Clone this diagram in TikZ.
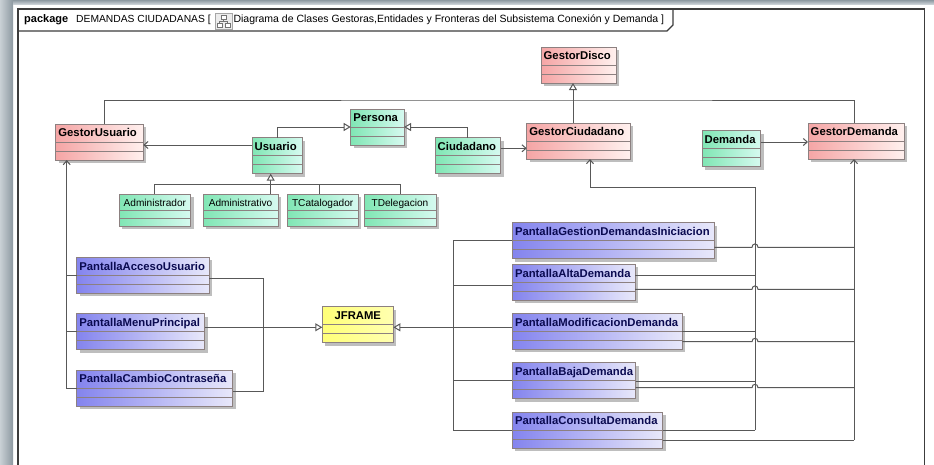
\documentclass[tikz,border=0pt]{standalone}
\usepackage{fontspec}
\setmainfont{Liberation Sans}
\usetikzlibrary{arrows.meta,calc}

\definecolor{pinkL}{HTML}{F5A5A5}
\definecolor{pinkR}{HTML}{FFF0EE}
\definecolor{greenL}{HTML}{80E6B4}
\definecolor{greenR}{HTML}{D6FAF0}
\definecolor{blueL}{HTML}{8484EE}
\definecolor{blueR}{HTML}{E8E8FA}
\definecolor{yellowL}{HTML}{FFFF78}
\definecolor{yellowR}{HTML}{FFFFB0}
\definecolor{boxedge}{HTML}{8C8080}
\definecolor{shadowc}{HTML}{BEBEBE}
\definecolor{linec}{HTML}{585858}
\definecolor{framec}{HTML}{3C3C3C}
\definecolor{navy}{HTML}{0A0A50}
\definecolor{stripL}{HTML}{C9D0D5}
\definecolor{stripR}{HTML}{8D99A1}

\tikzset{
  classbox/.style={draw=boxedge, line width=0.8pt, inner sep=0pt, outer sep=0pt},
  gestor/.style={left color=pinkL, right color=pinkR},
  entidad/.style={left color=greenL, right color=greenR},
  pantalla/.style={left color=blueL, right color=blueR},
  marco/.style={left color=yellowL, right color=yellowR},
  sepline/.style={draw=boxedge, line width=0.8pt},
  cname/.style={font=\fontsize{11.3}{12}\selectfont\bfseries, inner sep=0pt},
  pname/.style={cname, text=navy},
  sname/.style={font=\fontsize{10.1}{11}\selectfont, inner sep=0pt},
  line/.style={draw=linec, line width=1pt},
  gen/.style={line, -{Triangle[open, length=7pt, width=8pt, fill=white]}},
  assoc/.style={line, -{Straight Barb[length=4pt, width=7pt]}},
}

% class box: name, colour style, x, y (top left), width, height
\newcommand\umlclass[6]{%
  \fill[shadowc] (#3+3,#4+3) rectangle ++(#5,#6);
  \node[classbox,#2,minimum width=#5pt,minimum height=#6pt,anchor=north west] (#1) at (#3,#4) {};
  \draw[sepline] ($(#1.north west)+(0,#6/2)$) -- ++(#5,0)
                 ($(#1.north west)+(0,#6*3/4)$) -- ++(#5,0);
}
% left aligned class name
\newcommand\clname[3][cname]{\node[#1,anchor=base west] (#2-n) at ($(#2.north west)+(2.5,12.7)$) {#3};}
% centred class name
\newcommand\clnamec[3][sname]{\node[#1,anchor=base] (#2-n) at ($(#2.north)+(0,12.7)$) {#3};}
% line from a screen to the demand bus, hopping over the citizen bus
\newcommand\hopline[2]{%
  \draw[line] (#1 |- 0,#2) -- ($(cbx |- 0,#2)+(-3,0)$)
    .. controls ($(cbx |- 0,#2)+(-3,-4.5)$) and ($(cbx |- 0,#2)+(3,-4.5)$) .. ($(cbx |- 0,#2)+(3,0)$)
    -- (dbx |- 0,#2);}

\begin{document}
\begin{tikzpicture}[x=1pt,y=-1pt]
\useasboundingbox (0,0) rectangle (934,464);

% window background
\fill[white] (0,0) rectangle (934,464);
\shade[left color=stripL, right color=stripR] (0,0) rectangle (13,464);
\shade[top color=stripR, bottom color=stripL] (13,0) rectangle (934,4);

% package frame
\draw[framec, line width=1.3pt] (18,470) -- (18,9) -- (924.3,9) -- (924.3,470);
\draw[framec, line width=1.1pt] (18,31) -- (667,31) -- (673,25) -- (673,9);
\node[anchor=base west, inner sep=0pt, font=\fontsize{11}{12}\selectfont\bfseries] (pkg) at (24,22) {package};
\node[anchor=base west, inner sep=0pt, font=\fontsize{10.3}{12}\selectfont] (pkgname) at (76,22) {DEMANDAS CIUDADANAS [};
% diagram icon
\draw[draw=gray!70, fill=gray!15, line width=0.6pt] (215,13) rectangle (232,29);
\draw[draw=gray!90!black, line width=0.6pt, fill=white] (221,15) rectangle (226,19)
  (217,23) rectangle (222,27) (225,23) rectangle (230,27);
\draw[gray!90!black, line width=0.6pt] (223.5,19) -- (223.5,21) (219.5,21) -- (227.5,21)
  (219.5,21) -- (219.5,23) (227.5,21) -- (227.5,23);
\node[anchor=base west, inner sep=0pt, font=\fontsize{10.5}{12}\selectfont] (pkgdiag) at (233.3,22)
  {Diagrama de Clases Gestoras,Entidades y Fronteras del Subsistema Conexión y Demanda ]};

% managers
\umlclass{gd}{gestor}{541}{47}{75}{36}
\umlclass{gu}{gestor}{55.7}{124}{87.6}{36}
\umlclass{gc}{gestor}{526.7}{123}{103.3}{36}
\umlclass{gdm}{gestor}{808}{123}{96}{36}
\clname{gd}{GestorDisco}
\clname{gu}{GestorUsuario}
\clname{gc}{GestorCiudadano}
\clname{gdm}{GestorDemanda}

% entities
\umlclass{pe}{entidad}{350.7}{109}{53.3}{36}
\umlclass{us}{entidad}{252}{137.7}{50}{36}
\umlclass{ci}{entidad}{435}{137.7}{65.7}{36}
\umlclass{dm}{entidad}{702}{130.7}{58.7}{36}
\clname{pe}{Persona}
\clname{us}{Usuario}
\clname{ci}{Ciudadano}
\clname{dm}{Demanda}

\umlclass{ad}{entidad}{119}{194}{71.7}{32}
\umlclass{av}{entidad}{203}{194}{75}{32}
\umlclass{tc}{entidad}{287.3}{194}{70.7}{32}
\umlclass{td}{entidad}{364}{194}{72}{32}
\clnamec{ad}{Administrador}
\clnamec{av}{Administrativo}
\clnamec{tc}{TCatalogador}
\clnamec{td}{TDelegacion}

% screens
\umlclass{pacc}{pantalla}{76.7}{257.3}{132.6}{36}
\umlclass{pmp}{pantalla}{76.7}{313.7}{128}{36}
\umlclass{pcc}{pantalla}{76.7}{370}{156}{36}
\clname[pname]{pacc}{PantallaAccesoUsuario}
\clname[pname]{pmp}{PantallaMenuPrincipal}
\clname[pname]{pcc}{PantallaCambioContraseña}

\umlclass{pgi}{pantalla}{512.3}{222.7}{202}{36}
\umlclass{pad}{pantalla}{512.3}{264.3}{122.7}{36}
\umlclass{pmd}{pantalla}{512.3}{313.3}{170}{36}
\umlclass{pbd}{pantalla}{512.3}{362.7}{123.4}{36}
\umlclass{pcd}{pantalla}{512.3}{412}{150.4}{36}
\clname[pname]{pgi}{PantallaGestionDemandasIniciacion}
\clname[pname]{pad}{PantallaAltaDemanda}
\clname[pname]{pmd}{PantallaModificacionDemanda}
\clname[pname]{pbd}{PantallaBajaDemanda}
\clname[pname]{pcd}{PantallaConsultaDemanda}

% frame base class
\umlclass{jf}{marco}{322.3}{306.7}{71}{36}
\clnamec[cname]{jf}{JFRAME}

% routing coordinates
\coordinate (xgu) at (104.7,0);
\coordinate (xgc) at (573,0);
\coordinate (ty) at (0,100);
\coordinate (sy) at (0,184.3);
\coordinate (xu) at (270.7,0);
\coordinate (tcx) at (319.3,0);
\coordinate (gcx) at (590,0);
\coordinate (cbx) at (755,0);
\coordinate (dbx) at (854,0);
\coordinate (xL) at (66.7,0);
\coordinate (xm) at (263.3,0);
\coordinate (xr) at (453.3,0);
\coordinate (yj) at (0,327.3);

% manager hierarchy
\draw[gen] (gc.north -| xgc) -- (gd.south -| xgc);
\draw[line] (gu.north -| xgu) |- (xgc |- ty) -| (gdm.north -| dbx);

% entity hierarchy
\draw[gen] (us.north) |- (pe.west);
\draw[gen] (ci.north) |- (pe.east);
\draw[gen] (xu |- sy) -- (us.south -| xu);
\draw[line] (ad.north) |- (td.north |- sy) -- (td.north);
\draw[line] (av.north -| xu) -- (xu |- sy);
\draw[line] (tc.north -| tcx) -- (tcx |- sy);

% entity to manager
\draw[assoc] (us.west |- 0,145) -- (gu.east |- 0,145);
\draw[assoc] (ci.east |- 0,148.3) -- (gc.west |- 0,148.3);
\draw[assoc] (dm.east |- 0,142) -- (gdm.west |- 0,142);

% user screens
\draw[assoc] (pcc.west) -| (gu.south -| xL);
\draw[line] (pacc.west) -- (pacc.west -| xL);
\draw[line] (pmp.west) -- (pmp.west -| xL);
\draw[gen] (pmp.east |- yj) -- (jf.west |- yj);
\draw[line] (pacc.east |- 0,278.3) -| (xm |- 0,391) -- (pcc.east |- 0,391);

% demand screens to JFRAME
\draw[gen] (xr |- yj) -- (jf.east |- yj);
\draw[line] (pgi.west |- 0,240) -| (xr |- pcd.west) -- (pcd.west);
\draw[line] (xr |- 0,285.7) -- (pad.west |- 0,285.7);
\draw[line] (xr |- yj) -- (pmd.west |- yj);
\draw[line] (xr |- pbd.west) -- (pbd.west);

% citizen manager bus
\draw[assoc] (cbx |- 0,430) -- (cbx |- 0,187) -| (gc.south -| gcx);
\draw[line] (pad.east |- 0,275.3) -- (cbx |- 0,275.3);
\draw[line] (pmd.east |- 0,331.3) -- (cbx |- 0,331.3);
\draw[line] (pbd.east |- 0,381) -- (cbx |- 0,381);
\draw[line] (pcd.east |- 0,430) -- (cbx |- 0,430);

% demand manager bus
\draw[assoc] (dbx |- 0,440) -- (gdm.south -| dbx);
\hopline{pgi.east}{247.3}
\hopline{pad.east}{289.3}
\hopline{pmd.east}{341.7}
\hopline{pbd.east}{387.7}
\draw[line] (pcd.east |- 0,440) -- (dbx |- 0,440);
\end{tikzpicture}
\end{document}
